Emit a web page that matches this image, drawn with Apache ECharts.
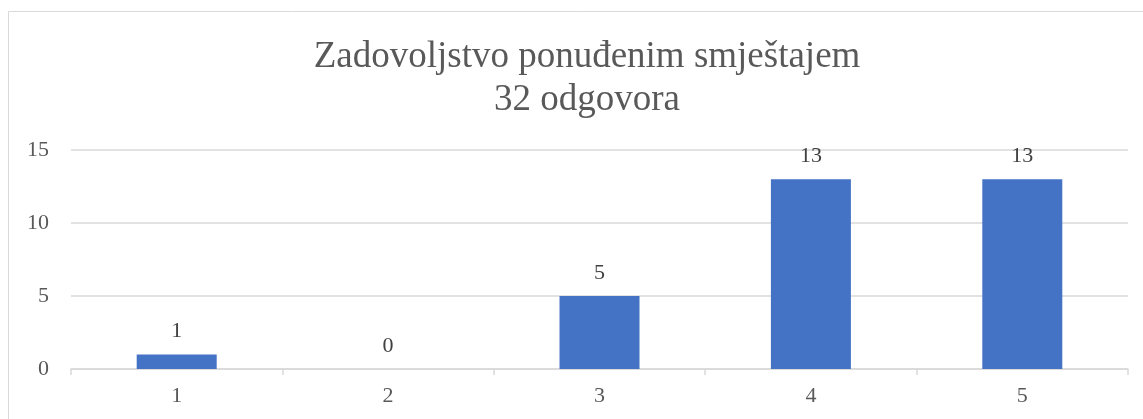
<!DOCTYPE html>
<html>
<head>
<meta charset="utf-8">
<style>
html,body{margin:0;padding:0;background:#fff;}
#chart{width:1143px;height:419px;}
</style>
<script src="https://cdn.jsdelivr.net/npm/echarts@6/dist/echarts.min.js"></script>
</head>
<body>
<div id="chart"></div>
<script>
const titleLines = ['Zadovoljstvo ponuđenim smještajem', '32 odgovora'];
const categories = ['1', '2', '3', '4', '5'];
const values = [1, 0, 5, 13, 13];
const yTicks = { min: 0, max: 15, interval: 5 };

const chart = echarts.init(document.getElementById('chart'), null, { renderer: 'canvas' });
const font = '"Liberation Serif", "Times New Roman", serif';
chart.setOption({
  animation: false,
  backgroundColor: '#fff',
  graphic: [{
    type: 'rect',
    shape: { x: 8.5, y: 11.5, width: 1200, height: 500 },
    style: { fill: 'none', stroke: '#d9d9d9', lineWidth: 1 },
    silent: true, z: -1
  }],
  title: {
    text: titleLines.join('\n'),
    left: 582,
    textAlign: 'center',
    top: 31,
    textStyle: { fontFamily: font, fontSize: 37, fontWeight: 'normal', color: '#595959', lineHeight: 43 }
  },
  grid: { left: 71, right: 15, top: 150, bottom: 50, containLabel: false },
  xAxis: {
    type: 'category',
    data: categories,
    axisLine: { lineStyle: { color: '#d9d9d9', width: 1.5 } },
    axisTick: { show: true, length: 6, lineStyle: { color: '#d9d9d9', width: 1.5 } },
    axisLabel: { fontFamily: font, fontSize: 22, color: '#595959', margin: 16 },
    splitLine: { show: false }
  },
  yAxis: {
    type: 'value',
    min: yTicks.min, max: yTicks.max, interval: yTicks.interval,
    axisLine: { show: false },
    axisTick: { show: false },
    axisLabel: { fontFamily: font, fontSize: 22, color: '#595959', margin: 22 },
    splitLine: { lineStyle: { color: '#d9d9d9', width: 1.5 } }
  },
  series: [{
    type: 'bar',
    data: values,
    barWidth: 80,
    itemStyle: { color: '#4472C4' },
    label: {
      show: true, position: 'top', distance: 12,
      fontFamily: font, fontSize: 22, color: '#404040'
    }
  }]
});
</script>
</body>
</html>
